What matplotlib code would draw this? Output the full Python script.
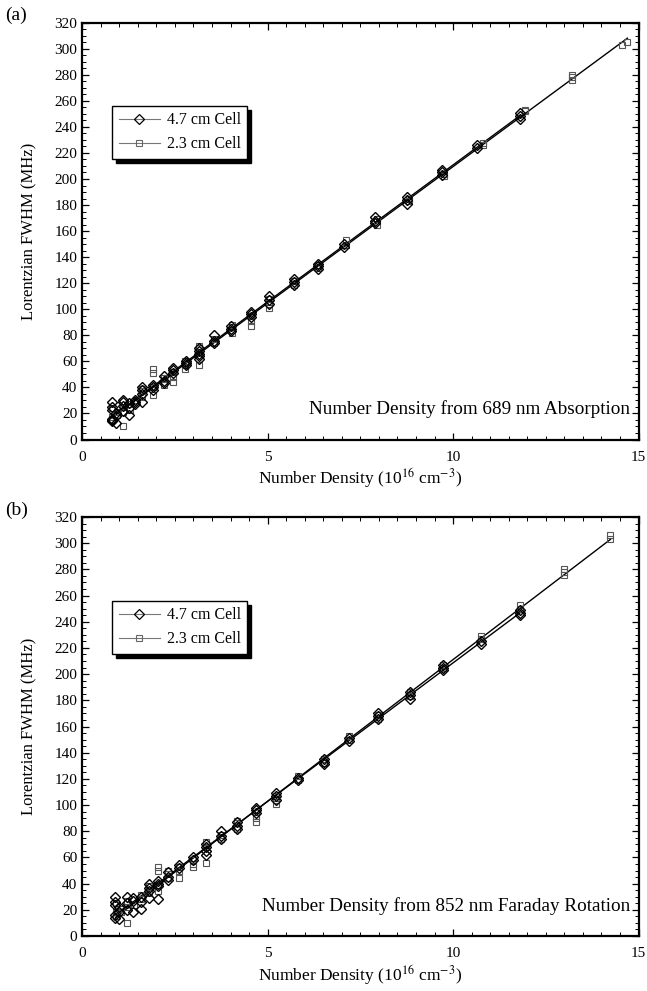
import numpy as np
import matplotlib
matplotlib.use('Agg')
import matplotlib.pyplot as plt
from matplotlib.lines import Line2D
from matplotlib.ticker import MultipleLocator

plt.rcParams['font.family'] = ['Liberation Serif', 'DejaVu Serif']
plt.rcParams['mathtext.fontset'] = 'stix'

# panel (a): density from 689 nm absorption
dens_a_47 = [0.80]*6 + [0.92]*3 + [1.10]*4 + [1.25]*3 + [1.42]*3 + [1.62]*4 + [1.90]*3 + [2.20]*3 \
    + [2.45]*3 + [2.80]*3 + [3.15]*5 + [3.55]*3 + [4.02]*3 + [4.55]*3 + [5.05]*3 + [5.70]*3 \
    + [6.35]*3 + [7.05]*2 + [7.90]*3 + [8.75]*3 + [9.70]*3 + [10.65]*2 + [11.80]*3
fwhm_a_47 = [14, 15, 16, 23, 25, 29, 13, 18, 20, 22, 26, 29, 30, 19, 24, 28, 27, 29, 30,
             29, 35, 38, 40, 38, 40, 42, 43, 45, 49, 51, 53, 55, 57, 59, 60, 62, 64, 66, 68, 70,
             74, 76, 80, 83, 85, 87, 94, 96, 98, 104, 107, 110, 119, 121, 123, 131, 133, 135,
             148, 150, 166, 168, 171, 181, 184, 186, 203, 205, 207, 224, 226, 246, 248, 251]

dens_a_23 = [0.80]*3 + [0.95]*2 + [1.10]*3 + [1.28]*2 + [1.45] + [1.62]*3 + [1.90]*4 + [2.20]*2 \
    + [2.45]*3 + [2.78]*3 + [3.15]*4 + [3.55]*2 + [4.05]*3 + [4.55]*3 + [5.05]*3 + [5.72]*2 \
    + [6.35]*2 + [7.10]*2 + [7.95]*2 + [8.80]*2 + [9.75]*2 + [10.80]*2 + [11.95]*2 + [13.20]*3 \
    + [14.55, 14.70]
fwhm_a_23 = [15, 17, 24, 19, 21, 10, 21, 25, 23, 27, 30, 33, 37, 39, 34, 40, 51, 54, 42, 47,
             44, 48, 52, 54, 57, 60, 57, 67, 70, 72, 74, 77, 82, 86, 88, 87, 91, 95, 101, 104, 108,
             119, 122, 132, 134, 149, 153, 165, 169, 183, 185, 202, 204, 226, 228, 252, 253,
             276, 278, 280, 303, 305]

# panel (b): density from 852 nm Faraday rotation
dens_b_47 = [0.88]*5 + [1.00]*3 + [1.22]*3 + [1.37]*3 + [1.59]*3 + [1.80]*4 + [2.04]*4 + [2.31]*3 \
    + [2.60]*2 + [2.98]*2 + [3.34]*4 + [3.75]*3 + [4.18]*3 + [4.69]*3 + [5.23]*3 + [5.82]*2 \
    + [6.51]*3 + [7.20]*2 + [7.98]*3 + [8.83]*3 + [9.73]*3 + [10.75]*2 + [11.81]*3
fwhm_b_47 = [14, 16, 24, 26, 30, 13, 18, 22, 20, 25, 30, 18, 27, 29, 21, 26, 30, 29, 34, 37, 40,
             28, 38, 40, 42, 43, 45, 49, 52, 54, 58, 60, 62, 65, 68, 70, 74, 76, 80, 82, 84, 87,
             94, 96, 98, 104, 107, 109, 119, 121, 131, 133, 135, 149, 151, 166, 168, 170,
             181, 184, 186, 203, 205, 207, 223, 225, 245, 247, 249]

dens_b_23 = [0.90]*3 + [1.05]*2 + [1.22]*3 + [1.40] + [1.59]*2 + [1.80]*2 + [2.04]*4 + [2.31]*3 \
    + [2.60]*3 + [2.98]*3 + [3.34]*3 + [3.75]*2 + [4.18]*3 + [4.69]*3 + [5.23]*3 + [5.82]*2 \
    + [6.51]*2 + [7.20]*2 + [7.98]*2 + [8.83]*2 + [9.73]*2 + [10.75]*2 + [11.81]*2 + [12.99]*3 \
    + [14.24]*2
fwhm_b_23 = [15, 18, 25, 18, 21, 10, 22, 27, 24, 28, 31, 33, 38, 34, 39, 50, 53, 44, 47, 50,
             44, 50, 53, 53, 55, 58, 56, 68, 72, 74, 77, 82, 86, 88, 87, 90, 92, 101, 104, 107,
             119, 122, 132, 135, 150, 153, 166, 169, 183, 186, 205, 207, 227, 229, 250, 253,
             276, 278, 280, 303, 306]

panels = [
    ('(a)', 'Number Density from 689 nm Absorption', dens_a_47, fwhm_a_47, dens_a_23, fwhm_a_23),
    ('(b)', 'Number Density from 852 nm Faraday Rotation', dens_b_47, fwhm_b_47, dens_b_23, fwhm_b_23),
]

fig = plt.figure(figsize=(6.47, 9.91), dpi=100)
boxes = [[0.127, 0.5565, 0.860, 0.4206], [0.127, 0.0555, 0.860, 0.4228]]
fig_lab_y = [0.985, 0.485]

for k, (tag, note, x1, y1, x2, y2) in enumerate(panels):
    ax = fig.add_axes(boxes[k])
    x1 = np.array(x1); y1 = np.array(y1)
    x2 = np.array(x2); y2 = np.array(y2)

    # linear fits for each cell
    for xs, ys in ((x1, y1), (x2, y2)):
        p = np.polyfit(xs, ys, 1)
        xx = np.array([xs.min(), xs.max()])
        ax.plot(xx, np.polyval(p, xx), color='black', lw=1.0, zorder=2)

    ax.plot(x2, y2, ls='none', marker='s', ms=5, mfc='none', mec='#555555', mew=0.8, zorder=3)
    ax.plot(x1, y1, ls='none', marker='D', ms=5.5, mfc='none', mec='black', mew=1.0, zorder=4)

    ax.set_xlim(0, 15)
    ax.set_ylim(0, 320)
    ax.xaxis.set_major_locator(MultipleLocator(5))
    ax.xaxis.set_minor_locator(MultipleLocator(0.5))
    ax.yaxis.set_major_locator(MultipleLocator(20))
    ax.yaxis.set_minor_locator(MultipleLocator(5))
    ax.tick_params(which='both', direction='in', top=True, right=True, labelsize=11)
    ax.tick_params(which='major', length=5, width=0.9)
    ax.tick_params(which='minor', length=3, width=0.7)
    ax.tick_params(axis='x', pad=8)
    for s in ax.spines.values():
        s.set_linewidth(1.6)

    ax.set_xlabel('Number Density (10$^{16}$ cm$^{-3}$)', fontsize=12.5, labelpad=2)
    ax.set_ylabel('Lorentzian FWHM (MHz)', fontsize=12, labelpad=12)
    ax.text(0.985, 0.072, note, transform=ax.transAxes, ha='right', va='center', fontsize=13.8)

    handles = [
        Line2D([], [], color='#777777', lw=0.8, marker='D', ms=5, mfc='none', mec='black', mew=0.9),
        Line2D([], [], color='#777777', lw=0.8, marker='s', ms=4.5, mfc='none', mec='#666666', mew=0.8),
    ]
    leg = ax.legend(handles, ['4.7 cm Cell', '2.3 cm Cell'], loc='upper left',
                    bbox_to_anchor=(0.054, 0.80), fontsize=11.5, frameon=True, fancybox=False,
                    shadow={'color': 'black', 'alpha': 1.0, 'ox': 3, 'oy': -3},
                    handlelength=2.6, borderpad=0.4, labelspacing=0.5, handletextpad=0.4,
                    borderaxespad=0)
    leg.get_frame().set_edgecolor('black')
    leg.get_frame().set_linewidth(1.0)
    leg.get_frame().set_alpha(1.0)

    fig.text(0.008, fig_lab_y[k], tag, fontsize=14, ha='left', va='center')

plt.savefig('out.png', dpi=100)
